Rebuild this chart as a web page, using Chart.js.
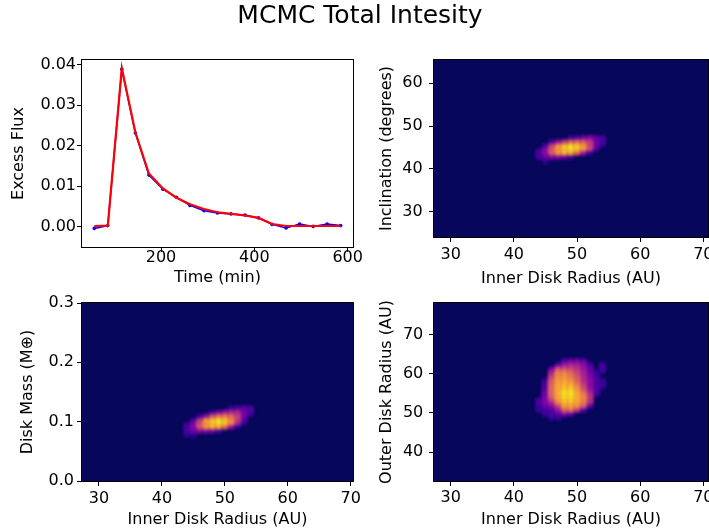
<!DOCTYPE html>
<html><head><meta charset="utf-8">
<script src="https://cdn.jsdelivr.net/npm/chart.js@4.4.1/dist/chart.umd.min.js"></script>
<style>
html,body{margin:0;padding:0;background:#fff;overflow:hidden;width:709px;height:531px}
canvas{position:absolute;left:0;top:0}
</style></head><body>
<canvas id="cTitle" width="709" height="60"></canvas>
<canvas id="cA" width="709" height="531"></canvas>
<canvas id="cB" width="709" height="531"></canvas>
<canvas id="cC" width="709" height="531"></canvas>
<canvas id="cD" width="709" height="531"></canvas>
<script>
// ---------------- DATA ----------------
const figTitle = 'MCMC Total Intesity';
const timeMin = [57, 86, 116, 145, 174, 204, 233, 262, 292, 321, 350, 380, 409, 438, 468, 497, 526, 556, 585];
const fluxObserved = [-0.0005, 0.0002, 0.0389, 0.0231, 0.0127, 0.0092, 0.0072, 0.0052, 0.0039, 0.0033, 0.0031, 0.0028, 0.0021, 0.0005, -0.0004, 0.0006, 0.0000, 0.0006, 0.0002];
const fluxModel = [0.0001, 0.0002, 0.0392, 0.0233, 0.0131, 0.0094, 0.0071, 0.0055, 0.0043, 0.0035, 0.0031, 0.0027, 0.0021, 0.0006, 0.0001, 0.0001, 0.0001, 0.0001, 0.0001];
const timeTicks = [200, 400, 600];
const fluxTicks = [0, 0.01, 0.02, 0.03, 0.04];
const innerTicks = [30, 40, 50, 60, 70];
const inclTicks = [30, 40, 50, 60];
const massTicks = [0, 0.1, 0.2, 0.3];
const outerTicks = [40, 50, 60, 70];

// posterior density (relative, 0..1) on bins of inner disk radius (AU)
const innerBins = [44, 45, 46, 47, 48, 49, 50, 51, 52, 53, 54];
// inclination rows (degrees), top to bottom
const inclBins = [47, 46, 45, 44, 43, 42];
const inclDensity = [
  [0,    0,    0,    0,    0,    0.08, 0.12, 0.22, 0.28, 0.18, 0.12],
  [0,    0,    0.12, 0.30, 0.45, 0.58, 0.62, 0.58, 0.45, 0.22, 0.08],
  [0,    0.15, 0.48, 0.74, 0.86, 0.93, 0.88, 0.74, 0.48, 0.15, 0   ],
  [0.12, 0.28, 0.55, 0.74, 0.82, 0.78, 0.58, 0.32, 0.08, 0,    0   ],
  [0.12, 0.20, 0.25, 0.25, 0.18, 0.08, 0,    0,    0,    0,    0   ],
  [0,    0.05, 0,    0,    0,    0,    0,    0,    0,    0,    0   ]
];
// disk mass rows, top to bottom
const massBins = [0.121, 0.114, 0.107, 0.100, 0.093, 0.086, 0.079];
const massDensity = [
  [0,    0,    0,    0,    0,    0,    0,    0.08, 0.12, 0.18, 0.14],
  [0,    0,    0,    0,    0.08, 0.22, 0.32, 0.38, 0.38, 0.22, 0.08],
  [0,    0,    0.08, 0.28, 0.52, 0.63, 0.66, 0.60, 0.46, 0.18, 0   ],
  [0,    0.12, 0.44, 0.74, 0.86, 0.93, 0.86, 0.70, 0.38, 0.08, 0   ],
  [0.10, 0.26, 0.52, 0.72, 0.80, 0.76, 0.58, 0.28, 0.05, 0,    0   ],
  [0.12, 0.22, 0.26, 0.26, 0.22, 0.10, 0,    0,    0,    0,    0   ],
  [0.05, 0.05, 0,    0,    0,    0,    0,    0,    0,    0,    0   ]
];
// outer disk radius rows (AU), top to bottom
const outerBins = [63, 62, 61, 60, 59, 58, 57, 56, 55, 54, 53, 52, 51, 50, 49];
const outerDensity = [
  [0,    0,    0,    0,    0.12, 0.20, 0.22, 0.18, 0,    0,    0   ],
  [0,    0,    0,    0.15, 0.32, 0.38, 0.36, 0.28, 0.12, 0,    0.10],
  [0,    0,    0.20, 0.50, 0.52, 0.48, 0.42, 0.32, 0.18, 0,    0.10],
  [0,    0,    0.35, 0.68, 0.68, 0.60, 0.48, 0.36, 0.22, 0.08, 0   ],
  [0,    0,    0.45, 0.72, 0.74, 0.66, 0.54, 0.38, 0.26, 0.12, 0   ],
  [0,    0.08, 0.55, 0.76, 0.78, 0.72, 0.58, 0.40, 0.28, 0.14, 0.08],
  [0,    0.12, 0.58, 0.78, 0.82, 0.80, 0.64, 0.44, 0.28, 0.14, 0.08],
  [0,    0.15, 0.60, 0.80, 0.86, 0.86, 0.72, 0.50, 0.30, 0.14, 0   ],
  [0,    0.20, 0.60, 0.80, 0.93, 0.93, 0.78, 0.60, 0.36, 0.10, 0   ],
  [0,    0.22, 0.52, 0.78, 0.90, 0.90, 0.80, 0.68, 0.42, 0,    0   ],
  [0.12, 0.25, 0.38, 0.68, 0.84, 0.84, 0.78, 0.66, 0.38, 0,    0   ],
  [0.08, 0.20, 0.25, 0.44, 0.74, 0.76, 0.70, 0.52, 0.14, 0,    0   ],
  [0.08, 0.12, 0.15, 0.30, 0.55, 0.60, 0.40, 0.12, 0,    0,    0   ],
  [0,    0.08, 0.12, 0.15, 0.25, 0.15, 0,    0,    0,    0,    0   ],
  [0,    0,    0.08, 0.08, 0,    0,    0,    0,    0,    0,    0   ]
];

// ---------------- STYLE / HELPERS ----------------
const PLASMA = ['#0d0887','#41049d','#6a00a8','#8f0da4','#b12a90','#cc4778','#e16462','#f2844b','#fca636','#fcce25','#f0f921'];
const NAVY = 'rgb(6,6,90)';
function hex2rgb(h){return [parseInt(h.substr(1,2),16),parseInt(h.substr(3,2),16),parseInt(h.substr(5,2),16)];}
function plasma(v){
  v = Math.max(0, Math.min(1, v));
  const p = v * (PLASMA.length - 1), i = Math.min(PLASMA.length - 2, Math.floor(p)), f = p - i;
  const a = hex2rgb(PLASMA[i]), b = hex2rgb(PLASMA[i+1]);
  return 'rgb(' + a.map((c,k)=>Math.round(c + (b[k]-c)*f)).join(',') + ')';
}

Chart.defaults.font.family = "'DejaVu Sans', sans-serif";
Chart.defaults.font.size = 16;
Chart.defaults.color = '#000';
Chart.defaults.animation = false;
Chart.defaults.responsive = false;
Chart.defaults.devicePixelRatio = 1;
Chart.defaults.plugins.legend.display = false;
Chart.defaults.plugins.tooltip.enabled = false;

function makeAxis(o){
  const left = o.pos === 'left';
  return {
    type: 'linear', position: o.pos, min: o.min, max: o.max,
    afterBuildTicks: s => { s.ticks = o.ticks.map(v => ({value: v})); },
    afterFit: s => {
      if (left) s.width = o.size; else s.height = o.size;
      s.paddingLeft = 0; s.paddingRight = 0; s.paddingTop = 0; s.paddingBottom = 0;
    },
    grid: { drawOnChartArea: false, drawTicks: true, tickLength: 5, color: '#000', lineWidth: 1 },
    border: { display: false },
    ticks: { padding: o.tickPad, autoSkip: false, maxRotation: 0, minRotation: 0, color: '#000',
             font: { size: 16, lineHeight: 1 }, callback: v => o.fmt(v) },
    title: { display: true, text: o.title, color: '#000', font: { size: 16, lineHeight: 1.2 },
             padding: left ? { top: o.titlePad, bottom: 0 } : { top: 0, bottom: o.titlePad } }
  };
}

const framePlugin = { id: 'frame', afterDraw(c){
  const a = c.chartArea, x = c.ctx;
  x.save(); x.strokeStyle = '#000'; x.lineWidth = 1;
  x.strokeRect(Math.round(a.left) - 0.5, Math.round(a.top) - 0.5, Math.round(a.right - a.left) + 1, Math.round(a.bottom - a.top) + 1);
  x.restore();
}};
const hexPlugin = { id: 'hexbg',
  beforeDatasetsDraw(c){
    const a = c.chartArea, x = c.ctx;
    x.save(); x.fillStyle = NAVY; x.fillRect(a.left, a.top, a.right - a.left, a.bottom - a.top); x.restore();
    x.filter = 'blur(1.6px)';
  },
  afterDatasetsDraw(c){ c.ctx.filter = 'none'; }
};

function cellsFrom(xBins, yBins, dens){
  const out = [];
  yBins.forEach((yv, r) => xBins.forEach((xv, k) => { const v = dens[r][k]; if (v > 0) out.push({x: xv, y: yv, v: v}); }));
  out.sort((p, q) => p.v - q.v);
  return out;
}
function cellRadius(chart, dx, dy){
  const sx = chart.scales.x, sy = chart.scales.y;
  const w = Math.abs(sx.getPixelForValue(sx.min + dx) - sx.getPixelForValue(sx.min));
  const h = Math.abs(sy.getPixelForValue(sy.min + dy) - sy.getPixelForValue(sy.min));
  return 0.62 * Math.max(w, h);
}
function hexChart(id, yBins, dens, pad, xAxis, yAxis){
  const cells = cellsFrom(innerBins, yBins, dens);
  const dx = innerBins[1] - innerBins[0], dy = Math.abs(yBins[0] - yBins[1]);
  return new Chart(document.getElementById(id), {
    type: 'scatter',
    data: { datasets: [{
      data: cells,
      pointStyle: 'circle',
      pointRadius: ctx => cellRadius(ctx.chart, dx, dy),
      pointHoverRadius: ctx => cellRadius(ctx.chart, dx, dy),
      pointBorderWidth: 0,
      pointBackgroundColor: cells.map(c => plasma(c.v))
    }]},
    options: { layout: { padding: pad }, scales: { x: makeAxis(xAxis), y: makeAxis(yAxis) } },
    plugins: [hexPlugin, framePlugin]
  });
}

// ---------------- TITLE ----------------
new Chart(document.getElementById('cTitle'), {
  type: 'scatter', data: { datasets: [] },
  options: { layout: { padding: { left: 11 } },
    scales: { x: { display: false }, y: { display: false } },
    plugins: { title: { display: true, text: figTitle, color: '#000',
      font: { size: 25, weight: 'normal', lineHeight: 1.2 }, padding: { top: 1, bottom: 0 } } } }
});

// ---------------- PANEL A : light curve ----------------
new Chart(document.getElementById('cA'), {
  type: 'scatter',
  data: { datasets: [
    { data: timeMin.map((t, i) => ({x: t, y: fluxModel[i]})), showLine: true, borderColor: '#ff0000',
      borderWidth: 2.2, pointRadius: 0, order: 0 },
    { data: timeMin.map((t, i) => ({x: t, y: fluxObserved[i]})), showLine: true, borderColor: '#0000ff',
      borderWidth: 1.5, pointRadius: 1.8, pointBackgroundColor: '#0000ff', pointBorderWidth: 0, order: 1 }
  ]},
  options: { layout: { padding: { left: 0, top: 60, right: 356, bottom: 243 } },
    scales: {
      x: makeAxis({pos: 'bottom', min: 30.7, max: 611.4, ticks: timeTicks, size: 41, tickPad: -2.5, titlePad: 0.7,
                   title: 'Time (min)', fmt: v => String(v)}),
      y: makeAxis({pos: 'left', min: -0.0051, max: 0.0412, ticks: fluxTicks, size: 82, tickPad: 1, titlePad: 9.4,
                   title: 'Excess Flux', fmt: v => v.toFixed(2)})
    } },
  plugins: [framePlugin]
});

// ---------------- PANEL B : inclination ----------------
hexChart('cB', inclBins, inclDensity, { left: 360, top: 60, right: 1, bottom: 243 },
  {pos: 'bottom', min: 27.36, max: 70.74, ticks: innerTicks, size: 51, tickPad: 4.7, titlePad: 0,
   title: 'Inner Disk Radius (AU)', fmt: v => String(v)},
  {pos: 'left', min: 24.09, max: 65.45, ticks: inclTicks, size: 74, tickPad: 6.3, titlePad: 17.1,
   title: 'Inclination (degrees)', fmt: v => String(v)});

// ---------------- PANEL C : disk mass ----------------
hexChart('cC', massBins, massDensity, { left: 0, top: 303, right: 356, bottom: 1 },
  {pos: 'bottom', min: 27.3, max: 70.37, ticks: innerTicks, size: 49, tickPad: 5.3, titlePad: 0.4,
   title: 'Inner Disk Radius (AU)', fmt: v => String(v)},
  {pos: 'left', min: 0, max: 0.3, ticks: massTicks, size: 82, tickPad: 3, titlePad: 18.7,
   title: 'Disk Mass (M\u2295)', fmt: v => v.toFixed(1)});

// ---------------- PANEL D : outer radius ----------------
hexChart('cD', outerBins, outerDensity, { left: 360, top: 303, right: 1, bottom: 1 },
  {pos: 'bottom', min: 27.36, max: 70.74, ticks: innerTicks, size: 49, tickPad: 4.3, titlePad: 0.4,
   title: 'Inner Disk Radius (AU)', fmt: v => String(v)},
  {pos: 'left', min: 32.59, max: 78.08, ticks: outerTicks, size: 74, tickPad: 5.7, titlePad: 17.1,
   title: 'Outer Disk Radius (AU)', fmt: v => String(v)});
</script>
</body></html>
